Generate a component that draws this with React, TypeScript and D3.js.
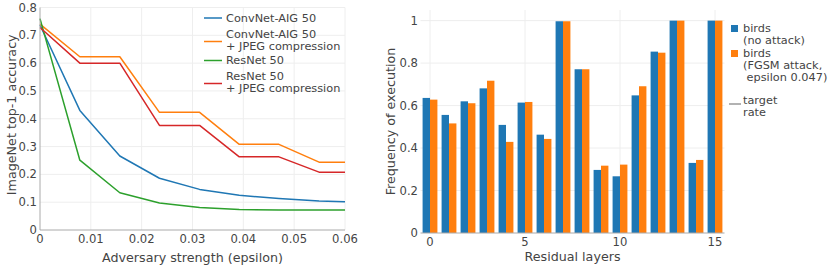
import React, { useRef, useEffect } from "react";
import * as d3 from "d3";

// left chart: accuracy vs adversary strength
const epsilons = [0, 0.00784, 0.0157, 0.0235, 0.0314, 0.0392, 0.047, 0.0549, 0.06];
const convnetAig = [0.737, 0.43, 0.266, 0.186, 0.146, 0.125, 0.113, 0.104, 0.102];
const convnetAigJpeg = [0.74, 0.623, 0.623, 0.423, 0.423, 0.308, 0.308, 0.244, 0.244];
const resnet = [0.76, 0.251, 0.134, 0.097, 0.081, 0.074, 0.072, 0.072, 0.072];
const resnetJpeg = [0.728, 0.6, 0.6, 0.376, 0.376, 0.263, 0.263, 0.208, 0.208];
const leftXTicks = [0, 0.01, 0.02, 0.03, 0.04, 0.05, 0.06];
const leftYTicks = [0, 0.1, 0.2, 0.3, 0.4, 0.5, 0.6, 0.7, 0.8];

// right chart: frequency of execution per residual layer
const layers = d3.range(16);
const birdsClean = [0.636, 0.556, 0.62, 0.681, 0.509, 0.614, 0.463, 0.997, 0.771, 0.297, 0.267, 0.648, 0.854, 1.0, 0.33, 1.0];
const birdsFgsm = [0.628, 0.516, 0.611, 0.717, 0.429, 0.617, 0.443, 0.997, 0.771, 0.317, 0.322, 0.691, 0.849, 1.0, 0.344, 1.0];
const rightXTicks = [0, 5, 10, 15];
const rightYTicks = [0, 0.2, 0.4, 0.6, 0.8, 1];

const BLUE = "#1f77b4";
const ORANGE = "#ff7f0e";
const GREEN = "#2ca02c";
const RED = "#d62728";
const TXT = "#444";
const GRID = "#eeeeee";
const FONT = "DejaVu Sans, Verdana, sans-serif";
const TICK_FS = 11.6;
const LEG_FS = 11.3;
const TITLE_FS = 12.7;
const LEG_LH = 12;

const App = () => {
	const svgRef = useRef(null);

	useEffect(() => {
		const svg = d3.select(svgRef.current);
		svg.selectAll("*").remove();
		svg.attr("font-family", FONT);

		// ---------- left chart ----------
		const x = d3.scaleLinear().domain([0, 0.06]).range([40, 345]);
		const y = d3.scaleLinear().domain([0, 0.8]).range([230, 7.5]);
		const left = svg.append("g");

		left.selectAll("line.vgrid")
			.data(leftXTicks.slice(1))
			.join("line")
			.attr("x1", d => x(d)).attr("x2", d => x(d))
			.attr("y1", y(0.8)).attr("y2", y(0))
			.attr("stroke", GRID).attr("stroke-width", 1);
		left.selectAll("line.hgrid")
			.data(leftYTicks.slice(1))
			.join("line")
			.attr("x1", x(0)).attr("x2", x(0.06))
			.attr("y1", d => y(d)).attr("y2", d => y(d))
			.attr("stroke", GRID).attr("stroke-width", 1);

		const series = [
			{ name: ["ConvNet-AIG 50"], values: convnetAig, color: BLUE },
			{ name: ["ConvNet-AIG 50", "+ JPEG compression"], values: convnetAigJpeg, color: ORANGE },
			{ name: ["ResNet 50"], values: resnet, color: GREEN },
			{ name: ["ResNet 50", "+ JPEG compression"], values: resnetJpeg, color: RED },
		];
		const line = d3.line().x(d => x(d[0])).y(d => y(d[1]));
		series.forEach(s => {
			left.append("path")
				.attr("d", line(epsilons.map((e, i) => [e, s.values[i]])))
				.attr("fill", "none")
				.attr("stroke", s.color)
				.attr("stroke-width", 1.5)
				.attr("stroke-linejoin", "round");
		});

		// axis lines
		left.append("line")
			.attr("x1", x(0)).attr("x2", x(0))
			.attr("y1", y(0.8)).attr("y2", y(0))
			.attr("stroke", "#aaa").attr("stroke-width", 1);
		left.append("line")
			.attr("x1", x(0)).attr("x2", x(0.06))
			.attr("y1", y(0)).attr("y2", y(0))
			.attr("stroke", "#aaa").attr("stroke-width", 1);

		left.selectAll("text.xt")
			.data(leftXTicks)
			.join("text")
			.attr("x", d => x(d)).attr("y", 239)
			.attr("text-anchor", "middle").attr("dominant-baseline", "central")
			.attr("font-size", TICK_FS).attr("fill", TXT)
			.text(d => d === 0 ? "0" : d3.format(".2f")(d));
		left.selectAll("text.yt")
			.data(leftYTicks)
			.join("text")
			.attr("x", 37).attr("y", d => y(d))
			.attr("text-anchor", "end").attr("dominant-baseline", "central")
			.attr("font-size", TICK_FS).attr("fill", TXT)
			.text(d => d === 0 ? "0" : d3.format(".1f")(d));

		left.append("text")
			.attr("x", (x(0) + x(0.06)) / 2).attr("y", 257)
			.attr("text-anchor", "middle").attr("dominant-baseline", "central")
			.attr("font-size", TITLE_FS).attr("fill", TXT)
			.text("Adversary strength (epsilon)");
		left.append("text")
			.attr("transform", `translate(11, ${(y(0) + y(0.8)) / 2 - 4}) rotate(-90)`)
			.attr("text-anchor", "middle").attr("dominant-baseline", "central")
			.attr("font-size", TITLE_FS).attr("fill", TXT)
			.text("ImageNet top-1 accuracy");

		// legend
		const legendStarts = [18, 34.5, 60.5, 76.5];
		series.forEach((s, i) => {
			const y0 = legendStarts[i];
			const ly = s.name.length === 1 ? y0 : y0 + LEG_LH / 2 + 1;
			left.append("line")
				.attr("x1", 204).attr("x2", 222)
				.attr("y1", ly).attr("y2", ly)
				.attr("stroke", s.color).attr("stroke-width", 1.5);
			s.name.forEach((t, j) => {
				left.append("text")
					.attr("x", 226).attr("y", y0 + j * LEG_LH)
					.attr("dominant-baseline", "central")
					.attr("font-size", LEG_FS).attr("fill", TXT)
					.style("white-space", "pre")
					.text(t);
			});
		});

		// ---------- right chart ----------
		const xr = d3.scaleLinear().domain([-0.5, 15.5]).range([420.5, 724.5]);
		const yr = d3.scaleLinear().domain([0, 1.05]).range([233, 10]);
		const band = d3.scaleBand().domain(["clean", "fgsm"]).range([-0.39, 0.39]);
		const right = svg.append("g");

		right.selectAll("line.vgrid")
			.data(rightXTicks)
			.join("line")
			.attr("x1", d => xr(d)).attr("x2", d => xr(d))
			.attr("y1", yr(1.05)).attr("y2", yr(0))
			.attr("stroke", GRID).attr("stroke-width", 1);
		right.selectAll("line.hgrid")
			.data(rightYTicks.slice(1))
			.join("line")
			.attr("x1", xr(-0.5)).attr("x2", xr(15.5))
			.attr("y1", d => yr(d)).attr("y2", d => yr(d))
			.attr("stroke", GRID).attr("stroke-width", 1);

		const barSets = [
			{ key: "clean", values: birdsClean, color: BLUE },
			{ key: "fgsm", values: birdsFgsm, color: ORANGE },
		];
		barSets.forEach(b => {
			right.selectAll(`rect.${b.key}`)
				.data(layers)
				.join("rect")
				.attr("x", d => xr(d + band(b.key)))
				.attr("width", xr(band.bandwidth()) - xr(0))
				.attr("y", d => yr(b.values[d]))
				.attr("height", d => yr(0) - yr(b.values[d]))
				.attr("fill", b.color);
		});

		right.append("line")
			.attr("x1", xr(-0.5)).attr("x2", xr(15.5))
			.attr("y1", yr(0)).attr("y2", yr(0))
			.attr("stroke", "#aaa").attr("stroke-width", 1);

		right.selectAll("text.xt")
			.data(rightXTicks)
			.join("text")
			.attr("x", d => xr(d)).attr("y", 242)
			.attr("text-anchor", "middle").attr("dominant-baseline", "central")
			.attr("font-size", TICK_FS).attr("fill", TXT)
			.text(d => String(d));
		right.selectAll("text.yt")
			.data(rightYTicks)
			.join("text")
			.attr("x", 418).attr("y", d => yr(d))
			.attr("text-anchor", "end").attr("dominant-baseline", "central")
			.attr("font-size", TICK_FS).attr("fill", TXT)
			.text(d => (d === 0 || d === 1) ? String(d) : d3.format(".1f")(d));

		right.append("text")
			.attr("x", (xr(-0.5) + xr(15.5)) / 2).attr("y", 256)
			.attr("text-anchor", "middle").attr("dominant-baseline", "central")
			.attr("font-size", TITLE_FS).attr("fill", TXT)
			.text("Residual layers");
		right.append("text")
			.attr("transform", `translate(390, ${(yr(0) + yr(1.05)) / 2}) rotate(-90)`)
			.attr("text-anchor", "middle").attr("dominant-baseline", "central")
			.attr("font-size", TITLE_FS).attr("fill", TXT)
			.text("Frequency of execution");

		// legend
		const rlegend = [
			{ rows: ["birds", "(no attack)"], y: 28.5, color: BLUE, kind: "bar" },
			{ rows: ["birds", "(FGSM attack,", " epsilon 0.047)"], y: 53.5, color: ORANGE, kind: "bar" },
			{ rows: ["target", "rate"], y: 100, color: "#999", kind: "line" },
		];
		rlegend.forEach(l => {
			if (l.kind === "bar") {
				right.append("rect")
					.attr("x", 731).attr("y", l.y - 3.5)
					.attr("width", 7).attr("height", 7)
					.attr("fill", l.color);
			} else {
				right.append("line")
					.attr("x1", 729).attr("x2", 741)
					.attr("y1", l.y + 4).attr("y2", l.y + 4)
					.attr("stroke", l.color).attr("stroke-width", 1.5);
			}
			l.rows.forEach((t, j) => {
				right.append("text")
					.attr("x", 743).attr("y", l.y + j * LEG_LH)
					.attr("dominant-baseline", "central")
					.attr("font-size", LEG_FS).attr("fill", TXT)
					.style("white-space", "pre")
					.text(t);
			});
		});
	});

	return (
		<div style={{ position: "absolute", left: 0, top: 0 }}>
			<svg ref={svgRef} width={830} height={265} style={{ display: "block", background: "#fff" }}>
			</svg>
		</div>
	);
};

export default App;
